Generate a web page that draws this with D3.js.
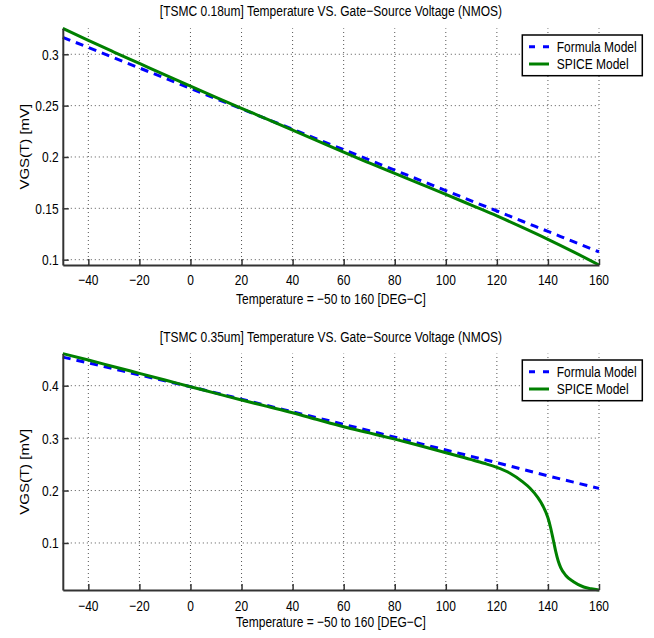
<!DOCTYPE html>
<html><head><meta charset="utf-8">
<script src="https://cdn.jsdelivr.net/npm/d3@7"></script>
<style>
body{margin:0;background:#fff}
svg{display:block;background:#fff}
text{font-family:"Liberation Sans",Arial,Helvetica,sans-serif;font-size:15px;fill:#000}
</style>
</head><body>
<svg id="c" width="654" height="638"></svg>
<script>
// ---------- data ----------
const seriesNames = ["Formula Model", "SPICE Model"];
const titles = [
  "[TSMC 0.18um] Temperature VS. Gate\u2212Source Voltage (NMOS)",
  "[TSMC 0.35um] Temperature VS. Gate\u2212Source Voltage (NMOS)"
];
const xLabel = "Temperature = \u221250 to 160 [DEG\u2212C]";
const yLabel = "VGS(T) [mV]";
const xTicks = [-40, -20, 0, 20, 40, 60, 80, 100, 120, 140, 160];
const xTickLabels = ["\u221240", "\u221220", "0", "20", "40", "60", "80", "100", "120", "140", "160"];

const topYTicks = [0.1, 0.15, 0.2, 0.25, 0.3];
const topYTickLabels = ["0.1", "0.15", "0.2", "0.25", "0.3"];
const bottomYTicks = [0.1, 0.2, 0.3, 0.4];
const bottomYTickLabels = ["0.1", "0.2", "0.3", "0.4"];

const temps = [-50, -40, -30, -20, -10, 0, 10, 20, 30, 40, 50, 60, 70, 80, 90, 100, 110, 120, 130, 140, 150, 160];

// TSMC 0.18um
const topFormula = [0.3165, 0.3066, 0.2966, 0.2867, 0.2767, 0.2668, 0.2568, 0.2469, 0.2369, 0.2270, 0.2170,
  0.2071, 0.1971, 0.1872, 0.1772, 0.1673, 0.1573, 0.1474, 0.1374, 0.1275, 0.1175, 0.1076];
const topSpice = [0.3253, 0.3135, 0.3022, 0.2911, 0.2800, 0.2690, 0.2581, 0.2474, 0.2368, 0.2262, 0.2155,
  0.2046, 0.1942, 0.1840, 0.1738, 0.1636, 0.1531, 0.1426, 0.1314, 0.1198, 0.1076, 0.0948];

// TSMC 0.35um
const bottomFormula = [0.4545, 0.4435, 0.4320, 0.4205, 0.4092, 0.3980, 0.3862, 0.3742, 0.3622, 0.3502, 0.3382,
  0.3262, 0.3140, 0.3018, 0.2895, 0.2773, 0.2652, 0.2531, 0.2405, 0.2280, 0.2160, 0.2042];
const bottomSpiceTemps = [-50, -40, -30, -20, -10, 0, 10, 20, 30, 40, 50, 60, 70, 80, 90, 100, 110, 115, 120,
  125, 130, 133, 136, 138, 140, 141, 142, 143, 144, 145, 147, 150, 154, 157, 160];
const bottomSpice = [0.4612, 0.4490, 0.4362, 0.4235, 0.4108, 0.3981, 0.3854, 0.3727, 0.3606, 0.3485, 0.3350,
  0.3218, 0.3100, 0.2981, 0.2853, 0.2722, 0.2590, 0.2520, 0.2442,
  0.2335, 0.2170, 0.2045, 0.1870, 0.1710, 0.1480, 0.1300, 0.1080, 0.0850, 0.0660, 0.0530, 0.0380, 0.0260, 0.0160, 0.0125, 0.0103];

// ---------- drawing ----------
const svg = d3.select("#c");
const X0 = 62.8, X1 = 599;
const SX = 0.8; // horizontal squeeze of text glyphs
const colors = ["#0000ff", "#008000"];
const dashes = ["8,6", null];

const panels = [
  { title: titles[0], yTicks: topYTicks, yLabels: topYTickLabels,
    series: [{ t: temps, v: topFormula }, { t: temps, v: topSpice }],
    top: 28.3, bottom: 265, titleY: 16, tickY: 285, xlabY: 304, legTop: 35 },
  { title: titles[1], yTicks: bottomYTicks, yLabels: bottomYTickLabels,
    series: [{ t: temps, v: bottomFormula }, { t: bottomSpiceTemps, v: bottomSpice }],
    top: 353.6, bottom: 590, titleY: 341.5, tickY: 610.7, xlabY: 627, legTop: 360 }
];

function txt(g, x, y, s, anchor, extra) {
  return g.append("text")
    .attr("transform", `translate(${x},${y}) scale(${SX},1)` + (extra || ""))
    .attr("text-anchor", anchor)
    .text(s);
}

const x = d3.scaleLinear().domain([-50, 160]).range([X0, X1]);

panels.forEach(p => {
  const g = svg.append("g");
  const allV = p.series.flatMap(s => s.v);
  const y = d3.scaleLinear().domain(d3.extent(allV)).range([p.bottom, p.top]);

  // grid
  const grid = g.append("g").attr("stroke", "#555").attr("stroke-width", 1).attr("stroke-dasharray", "1,3");
  xTicks.forEach(t => grid.append("line").attr("x1", x(t)).attr("x2", x(t)).attr("y1", p.bottom).attr("y2", p.top));
  p.yTicks.forEach(t => grid.append("line").attr("x1", X0).attr("x2", X1).attr("y1", y(t)).attr("y2", y(t)));

  // lines
  const line = d3.line().x(d => x(d[0])).y(d => y(d[1])).curve(d3.curveMonotoneX);
  p.series.forEach((s, i) => {
    const pts = s.t.map((t, k) => [t, s.v[k]]);
    g.append("path").datum(pts).attr("d", line)
      .attr("fill", "none").attr("stroke", colors[i]).attr("stroke-width", 3)
      .attr("stroke-dasharray", dashes[i]);
  });

  // axes
  const xa = g.append("g").attr("transform", `translate(0,${p.bottom})`)
    .call(d3.axisBottom(x).tickValues(xTicks).tickSize(-6).tickSizeOuter(0).tickFormat(() => ""));
  const ya = g.append("g").attr("transform", `translate(${X0},0)`)
    .call(d3.axisLeft(y).tickValues(p.yTicks).tickSize(-6).tickSizeOuter(0).tickFormat(() => ""));
  [xa, ya].forEach(a => {
    a.select(".domain").attr("stroke", "#333").attr("stroke-width", 2);
    a.selectAll(".tick line").attr("stroke", "#333").attr("stroke-width", 1.5);
  });

  // tick labels
  xTicks.forEach((t, i) => txt(g, x(t), p.tickY, xTickLabels[i], "middle"));
  p.yTicks.forEach((t, i) => txt(g, 58.7, y(t) + 5.4, p.yLabels[i], "end"));

  // titles / labels
  const cx = (X0 + X1) / 2;
  txt(g, cx, p.titleY, p.title, "middle");
  txt(g, cx, p.xlabY, xLabel, "middle");
  txt(g, 28.5, (p.top + p.bottom) / 2, yLabel, "middle", " rotate(-90)");

  // legend
  const lg = g.append("g");
  lg.append("rect").attr("x", 522.3).attr("y", p.legTop).attr("width", 120).attr("height", 40.7)
    .attr("fill", "#fff").attr("stroke", "#000").attr("stroke-width", 1.5);
  seriesNames.forEach((n, i) => {
    const ly = p.legTop + (i === 0 ? 11.7 : 29);
    lg.append("line").attr("x1", 529).attr("x2", 549).attr("y1", ly).attr("y2", ly)
      .attr("stroke", colors[i]).attr("stroke-width", 3)
      .attr("stroke-dasharray", i === 0 ? "6,8" : null);
    txt(lg, 556.7, ly + 5.4, n, "start");
  });
});
</script>
</body></html>
